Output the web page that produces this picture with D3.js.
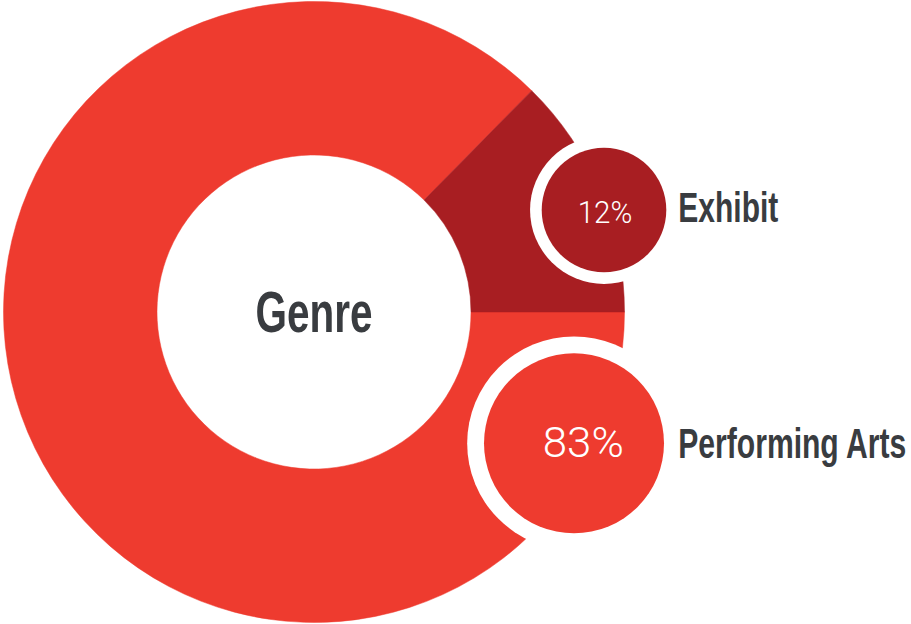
<!DOCTYPE html>
<html>
<head>
<meta charset="utf-8">
<script src="https://cdn.jsdelivr.net/npm/d3@7"></script>
<style>
  html, body { margin: 0; padding: 0; background: #ffffff; }
  svg { display: block; }
</style>
</head>
<body>
<svg id="chart" width="911" height="624"></svg>
<script>
// Genre breakdown (percent of total)
const categories = ["Performing Arts", "Exhibit"];
const shares = [83, 12];
const centerTitle = "Genre";

const colors = ["#EE3B2F", "#A81E22"];
const textColor = "#393C40";

const width = 911, height = 624;
const cx = 314, cy = 312;
const outerR = 310.5, innerR = 157;

const svg = d3.select("#chart");

const data = categories.map((c, i) => ({ category: c, value: shares[i], color: colors[i] }));

// Squeeze a text horizontally to a target width (condensed look), anchored at its x
function fitWidth(sel, target, anchor) {
  sel.each(function () {
    const t = d3.select(this);
    const w = this.getComputedTextLength();
    const x = +t.attr("x") || 0;
    const y = +t.attr("y") || 0;
    const k = Math.min(1, target / w);
    t.attr("x", 0).attr("y", 0)
     .attr("transform", `translate(${x},${y}) scale(${k},1)`);
  });
}

// Donut: starts at 3 o'clock and runs clockwise
const pie = d3.pie()
  .sort(null)
  .value(d => d.value)
  .startAngle(Math.PI / 2)
  .endAngle(Math.PI / 2 + 2 * Math.PI);

const arc = d3.arc().innerRadius(innerR).outerRadius(outerR);

const donut = svg.append("g").attr("transform", `translate(${cx},${cy})`);
donut.selectAll("path")
  .data(pie(data))
  .join("path")
  .attr("d", arc)
  .attr("fill", d => d.data.color)
  .attr("stroke", d => d.data.color)
  .attr("stroke-width", 0.5);

donut.append("text")
  .attr("x", 0)
  .attr("y", 19.7)
  .attr("text-anchor", "middle")
  .attr("font-family", "'Liberation Sans Narrow', 'Arial Narrow', sans-serif")
  .attr("font-weight", 700)
  .attr("font-size", 58)
  .attr("fill", textColor)
  .text(centerTitle)
  .call(fitWidth, 117);

// Callout bubbles, sized by share
const rScale = d3.scaleLinear().domain([12, 83]).range([62.3, 90]);
const ringRatio = 1.187;

// bubble placement and label offsets, by category
const bubbleLayout = {
  "Exhibit":         { x: 604, y: 210,   pctDx: 1,   pctDy: 12.7, pctSize: 31, pctLen: 54.6, labDy: 12.3 },
  "Performing Arts": { x: 574, y: 443.3, pctDx: 9.3, pctDy: 13.4, pctSize: 42, pctLen: 81,   labDy: 15 }
};
const labelX = 678.3;
const labelLen = { "Exhibit": 100, "Performing Arts": 228 };

const bubbles = svg.append("g")
  .selectAll("g")
  .data(data)
  .join("g")
  .attr("transform", d => `translate(${bubbleLayout[d.category].x},${bubbleLayout[d.category].y})`);

bubbles.append("circle")
  .attr("r", d => rScale(d.value) * ringRatio)
  .attr("fill", "#ffffff");

bubbles.append("circle")
  .attr("r", d => rScale(d.value))
  .attr("fill", d => d.color);

bubbles.append("text")
  .attr("x", d => bubbleLayout[d.category].pctDx)
  .attr("y", d => bubbleLayout[d.category].pctDy)
  .attr("text-anchor", "middle")
  .attr("font-family", "Roboto, 'Open Sans', sans-serif")
  .attr("font-weight", 300)
  .attr("font-size", d => bubbleLayout[d.category].pctSize)
  .attr("textLength", d => bubbleLayout[d.category].pctLen)
  .attr("lengthAdjust", "spacingAndGlyphs")
  .attr("fill", "#ffffff")
  .text(d => d.value + "%");

bubbles.append("text")
  .attr("x", d => labelX - bubbleLayout[d.category].x)
  .attr("y", d => bubbleLayout[d.category].labDy)
  .attr("font-family", "'Liberation Sans Narrow', 'Arial Narrow', sans-serif")
  .attr("font-weight", 700)
  .attr("font-size", 42)
  .attr("fill", textColor)
  .text(d => d.category)
  .each(function (d) { d3.select(this).call(fitWidth, labelLen[d.category]); });
</script>
</body>
</html>
